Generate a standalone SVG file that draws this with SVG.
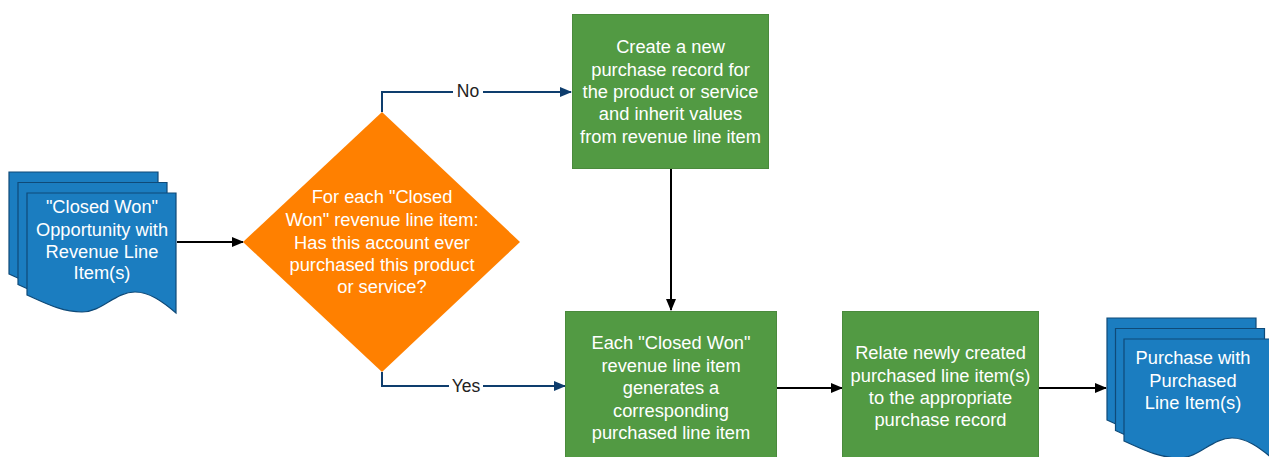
<svg xmlns="http://www.w3.org/2000/svg" xmlns:xlink="http://www.w3.org/1999/xlink" width="1269" height="457" viewBox="0 0 1269 457">
<style>
.doc{fill:#1b7dc0;stroke:#0f4a78;stroke-width:1.2}
.proc{fill:#529a43;stroke:#4a8a3c;stroke-width:1}
.dec{fill:#ff8000}
.t{font-family:"Liberation Sans",Arial,sans-serif;font-size:18.3px;fill:#ffffff;text-anchor:middle}
.lbl{font-family:"Liberation Sans",Arial,sans-serif;font-size:17.5px;fill:#222222;text-anchor:middle}
.blk{fill:none;stroke:#000000;stroke-width:2}
.nav{fill:none;stroke:#0e3d6d;stroke-width:2}
</style>
<defs>
<path id="docshape" d="M0,0 H149 V120 C135,108 122,99 108,99 C88,99 75,119 55,119 C35,119 18,110 0,102 Z"/>
<marker id="ab" markerWidth="12" markerHeight="10" refX="11" refY="5" orient="auto" markerUnits="userSpaceOnUse"><path d="M0,0 L12,5 L0,10 Z" fill="#000000"/></marker>
<marker id="an" markerWidth="12" markerHeight="10" refX="11" refY="5" orient="auto" markerUnits="userSpaceOnUse"><path d="M0,0 L12,5 L0,10 Z" fill="#0e3d6d"/></marker>
</defs>
<g id="connectors">
<line class="blk" x1="177" y1="242" x2="243" y2="242" marker-end="url(#ab)"/>
<polyline class="nav" points="382,112 382,92 571,92" marker-end="url(#an)"/>
<rect x="453" y="80" width="30" height="22" fill="#ffffff"/>
<text class="lbl" x="468" y="97">No</text>
<polyline class="nav" points="382,372 382,386 565,386" marker-end="url(#an)"/>
<rect x="449" y="374" width="34" height="22" fill="#ffffff"/>
<text class="lbl" x="466" y="392">Yes</text>
<line class="blk" x1="671" y1="169" x2="671" y2="310" marker-end="url(#ab)"/>
<line class="blk" x1="777" y1="388" x2="842" y2="388" marker-end="url(#ab)"/>
<line class="blk" x1="1039" y1="388" x2="1106" y2="388" marker-end="url(#ab)"/>
</g>
<g id="node-opportunity">
<use xlink:href="#docshape" href="#docshape" class="doc" x="9" y="172"/>
<use xlink:href="#docshape" href="#docshape" class="doc" x="18" y="182.5"/>
<use xlink:href="#docshape" href="#docshape" class="doc" x="27" y="193"/>
<text class="t" x="102" y="213">"Closed Won"</text>
<text class="t" x="102" y="236">Opportunity with</text>
<text class="t" x="102" y="258">Revenue Line</text>
<text class="t" x="102" y="279">Item(s)</text>
</g>
<g id="node-decision">
<polygon class="dec" points="382,112 520,242 382,372 243,242"/>
<text class="t" x="382" y="203">For each "Closed</text>
<text class="t" x="382" y="225.5">Won" revenue line item:</text>
<text class="t" x="382" y="248.5">Has this account ever</text>
<text class="t" x="382" y="270.5">purchased this product</text>
<text class="t" x="382" y="293">or service?</text>
</g>
<g id="node-create">
<rect class="proc" x="572.5" y="14.5" width="196" height="154"/>
<text class="t" x="670.5" y="53">Create a new</text>
<text class="t" x="670.5" y="75.5">purchase record for</text>
<text class="t" x="670.5" y="98">the product or service</text>
<text class="t" x="670.5" y="120">and inherit values</text>
<text class="t" x="670.5" y="143">from revenue line item</text>
</g>
<g id="node-generate">
<rect class="proc" x="565.5" y="311.5" width="211" height="154"/>
<text class="t" x="671" y="349">Each "Closed Won"</text>
<text class="t" x="671" y="372">revenue line item</text>
<text class="t" x="671" y="394">generates a</text>
<text class="t" x="671" y="417">corresponding</text>
<text class="t" x="671" y="439">purchased line item</text>
</g>
<g id="node-relate">
<rect class="proc" x="842.5" y="311.5" width="196" height="154"/>
<text class="t" x="940.5" y="359">Relate newly created</text>
<text class="t" x="940.5" y="382">purchased line item(s)</text>
<text class="t" x="940.5" y="404">to the appropriate</text>
<text class="t" x="940.5" y="426">purchase record</text>
</g>
<g id="node-purchase">
<use xlink:href="#docshape" href="#docshape" class="doc" x="1107" y="318"/>
<use xlink:href="#docshape" href="#docshape" class="doc" x="1115.5" y="328.5"/>
<use xlink:href="#docshape" href="#docshape" class="doc" x="1124" y="339"/>
<text class="t" x="1193" y="364">Purchase with</text>
<text class="t" x="1193" y="387">Purchased</text>
<text class="t" x="1193" y="409">Line Item(s)</text>
</g>
</svg>
